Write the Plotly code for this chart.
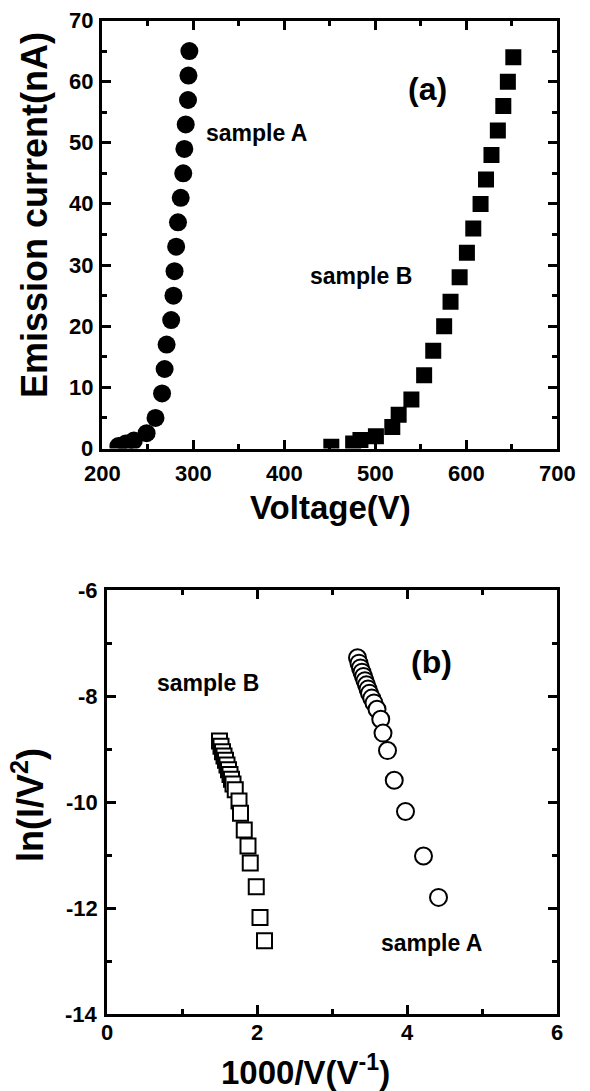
import plotly.graph_objects as go

# ---- panel (a): emission current vs voltage ----
a_sampleA_v = [218, 226, 235, 249, 258.8, 266, 268.8, 271, 276, 278.5, 279.7, 281.5, 283.5, 286.5, 289.3, 290.5, 292, 294.5, 295, 296]
a_sampleA_i = [0.4, 0.8, 1.3, 2.5, 5, 9, 13, 17, 21, 25, 29, 33, 37, 41, 45, 49, 53, 57, 61, 65]
a_sampleB_v = [452, 476, 484, 501, 519, 526, 540, 554, 564, 576, 583, 593, 601, 608, 616, 622, 628, 635, 641, 646, 652]
a_sampleB_i = [0.3, 0.8, 1.4, 2.0, 3.5, 5.5, 8, 12, 16, 20, 24, 28, 32, 36, 40, 44, 48, 52, 56, 60, 64]

# ---- panel (b): F-N plot ----
b_sampleA_x = [3.34, 3.36, 3.38, 3.40, 3.42, 3.44, 3.46, 3.48, 3.50, 3.53, 3.56, 3.60, 3.65, 3.68, 3.74, 3.83, 3.98, 4.22, 4.42]
b_sampleA_y = [-7.28, -7.38, -7.47, -7.55, -7.63, -7.71, -7.79, -7.87, -7.95, -8.04, -8.13, -8.25, -8.44, -8.70, -9.03, -9.59, -10.18, -11.02, -11.80]
b_sampleB_x = [1.50, 1.52, 1.54, 1.56, 1.58, 1.60, 1.62, 1.64, 1.66, 1.68, 1.71, 1.76, 1.78, 1.83, 1.88, 1.91, 1.99, 2.04, 2.10]
b_sampleB_y = [-8.85, -8.95, -9.05, -9.13, -9.21, -9.30, -9.39, -9.48, -9.57, -9.66, -9.77, -9.98, -10.21, -10.53, -10.83, -11.15, -11.60, -12.18, -12.62]

# ---- tick labels ----
a_xtick_vals = [200, 300, 400, 500, 600, 700]
a_xtick_text = ["200", "300", "400", "500", "600", "700"]
a_ytick_vals = [0, 10, 20, 30, 40, 50, 60, 70]
a_ytick_text = ["0", "10", "20", "30", "40", "50", "60", "70"]
b_xtick_vals = [0, 2, 4, 6]
b_xtick_text = ["0", "2", "4", "6"]
b_ytick_vals = [-14, -12, -10, -8, -6]
b_ytick_text = ["-14", "-12", "-10", "-8", "-6"]

W, H = 590, 1091
FONT = "Liberation Sans"

A_XDOM = [102 / W, 557 / W]
A_YDOM = [1 - 448.5 / H, 1 - 20.5 / H]
B_XDOM = [107 / W, 557 / W]
B_YDOM = [1 - 1014 / H, 1 - 590 / H]

fig = go.Figure()
fig.add_trace(go.Scatter(x=a_sampleA_v, y=a_sampleA_i, mode="markers",
                         marker=dict(symbol="circle", size=18, color="black"),
                         xaxis="x", yaxis="y", showlegend=False))
fig.add_trace(go.Scatter(x=a_sampleB_v, y=a_sampleB_i, mode="markers",
                         marker=dict(symbol="square", size=16, color="black"),
                         xaxis="x", yaxis="y", showlegend=False))
fig.add_trace(go.Scatter(x=b_sampleA_x, y=b_sampleA_y, mode="markers",
                         marker=dict(symbol="circle", size=17, color="white",
                                     line=dict(color="black", width=2)),
                         xaxis="x2", yaxis="y2", showlegend=False))
fig.add_trace(go.Scatter(x=b_sampleB_x, y=b_sampleB_y, mode="markers",
                         marker=dict(symbol="square", size=15, color="white",
                                     line=dict(color="black", width=2)),
                         xaxis="x2", yaxis="y2", showlegend=False))


def axis_style(domain, rng, vals, mdtick, anchor):
    return dict(domain=domain, range=rng, anchor=anchor,
                tickmode="array", tickvals=vals, showticklabels=False,
                showline=True, linewidth=3, linecolor="black", mirror="allticks",
                ticks="inside", ticklen=9, tickwidth=3, tickcolor="black",
                minor=dict(ticks="inside", ticklen=5, tickwidth=3, tickcolor="black",
                           tickmode="linear", tick0=rng[0], dtick=mdtick),
                showgrid=False, zeroline=False)


fig.update_layout(
    width=W, height=H, margin=dict(l=0, r=0, t=0, b=0, autoexpand=False),
    paper_bgcolor="white", plot_bgcolor="white",
    xaxis=axis_style(A_XDOM, [200, 700], a_xtick_vals, 50, "y"),
    yaxis=axis_style(A_YDOM, [0, 70], a_ytick_vals, 5, "x"),
    xaxis2=axis_style(B_XDOM, [0, 6], b_xtick_vals, 1, "y2"),
    yaxis2=axis_style(B_YDOM, [-14, -6], b_ytick_vals, 1, "x2"),
)

tkfont = dict(family=FONT, size=22, color="black", weight="bold")
tfont = dict(family=FONT, size=36, color="black", weight="bold")
xtfont = dict(family=FONT, size=33, color="black", weight="bold")
lfont = dict(family=FONT, size=23, color="black", weight="bold")
pfont = dict(family=FONT, size=32, color="black", weight="bold")

ann = []
# tick labels placed on the axes' own data scale
for xref, ydom, vals, texts, shift in [("x", A_YDOM, a_xtick_vals, a_xtick_text, -11),
                                       ("x2", B_YDOM, b_xtick_vals, b_xtick_text, -5)]:
    for v, t in zip(vals, texts):
        ann.append(dict(text=t, xref=xref, yref="paper", x=v, y=ydom[0], yshift=shift,
                        xanchor="center", yanchor="top", font=tkfont, showarrow=False,
                        borderpad=0))
for yref, xdom, vals, texts in [("y", A_XDOM, a_ytick_vals, a_ytick_text),
                                ("y2", B_XDOM, b_ytick_vals, b_ytick_text)]:
    for v, t in zip(vals, texts):
        ann.append(dict(text=t, xref="paper", yref=yref, x=xdom[0], y=v, xshift=-8,
                        xanchor="right", yanchor="middle", font=tkfont, showarrow=False,
                        borderpad=0))

labels = [
    dict(text="Emission current(nA)", xref="paper", yref="paper", x=35 / W, y=1 - 215 / H,
         textangle=-90, font=tfont),
    dict(text="Voltage(V)", xref="paper", yref="paper", x=330 / W, y=1 - 507 / H, font=xtfont),
    dict(text="ln(I/V<sup>2</sup>)", xref="paper", yref="paper", x=28 / W, y=1 - 805 / H,
         textangle=-90, font=tfont),
    dict(text="1000/V(V<sup>-1</sup>)", xref="paper", yref="paper", x=305 / W, y=1 - 1070 / H,
         font=xtfont),
    dict(text="(a)", xref="x", yref="y", x=558, y=58.8, font=pfont),
    dict(text="sample A", xref="x", yref="y", x=370, y=51.6, font=lfont),
    dict(text="sample B", xref="x", yref="y", x=485, y=28.2, font=lfont),
    dict(text="(b)", xref="x2", yref="y2", x=4.33, y=-7.35, font=pfont),
    dict(text="sample B", xref="x2", yref="y2", x=1.35, y=-7.76, font=lfont),
    dict(text="sample A", xref="x2", yref="y2", x=4.33, y=-12.66, font=lfont),
]
for a in labels:
    a.update(showarrow=False, xanchor="center", yanchor="middle")
ann.extend(labels)
fig.update_layout(annotations=ann)

fig.write_html("out.html")
